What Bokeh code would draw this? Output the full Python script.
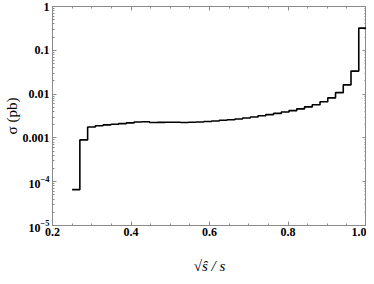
from bokeh.plotting import figure
from bokeh.models import (Range1d, FixedTicker, LogTicker, LogTickFormatter,
                          LinearAxis, LogAxis, CustomJSTickFormatter,
                          NumeralTickFormatter)
from bokeh.embed import file_html
from bokeh.resources import INLINE

# bin edges of the histogram (sqrt(s_hat/s))
edges = [0.25, 0.2697, 0.2895, 0.3092, 0.3289, 0.3487, 0.3684, 0.3882, 0.4079,
         0.4276, 0.4474, 0.4671, 0.4868, 0.5066, 0.5263, 0.5461, 0.5658, 0.5855,
         0.6053, 0.625, 0.6447, 0.6645, 0.6842, 0.7039, 0.7237, 0.7434, 0.7632,
         0.7829, 0.8026, 0.8224, 0.8421, 0.8618, 0.8816, 0.9013, 0.9211, 0.9408,
         0.9605, 0.9803, 1.0]
# cross section per bin (pb)
sigma = [6.6e-5, 9.0e-4, 1.77e-3, 1.9e-3, 1.98e-3, 2.05e-3, 2.12e-3, 2.2e-3,
         2.3e-3, 2.33e-3, 2.24e-3, 2.26e-3, 2.27e-3, 2.27e-3, 2.25e-3, 2.27e-3,
         2.3e-3, 2.36e-3, 2.43e-3, 2.52e-3, 2.6e-3, 2.7e-3, 2.85e-3, 3.0e-3,
         3.2e-3, 3.4e-3, 3.63e-3, 3.9e-3, 4.2e-3, 4.6e-3, 5.1e-3, 5.7e-3,
         6.7e-3, 8.2e-3, 1.08e-2, 1.62e-2, 3.35e-2, 0.32]

x_ticks = [0.2, 0.4, 0.6, 0.8, 1.0]
x_minor = [0.25, 0.3, 0.35, 0.45, 0.5, 0.55, 0.65, 0.7, 0.75, 0.85, 0.9, 0.95]
x_title = "\u221a\u015d / s"
y_title = "\u03c3 (pb)"

AX = "#8a8a8a"
FONT = "Liberation Serif"

p = figure(width=366, height=276, x_range=Range1d(0.2, 1.0),
           y_range=Range1d(1e-5, 1), y_axis_type="log",
           output_backend="svg", toolbar_location=None,
           min_border_left=46, min_border_right=0, min_border_top=6,
           min_border_bottom=50)
p.background_fill_color = "white"
p.border_fill_color = "white"
p.outline_line_color = AX
p.xgrid.visible = False
p.ygrid.visible = False

p.step(x=edges, y=sigma + [sigma[-1]], mode="after",
       line_color="black", line_width=1.6)


def style(ax, labels=True):
    ax.axis_line_color = AX
    ax.major_tick_line_color = AX
    ax.minor_tick_line_color = AX
    ax.major_tick_in = 4
    ax.major_tick_out = 0
    ax.minor_tick_in = 2
    ax.minor_tick_out = 0
    if labels:
        ax.major_label_text_font = FONT
        ax.major_label_text_font_style = "bold"
        ax.major_label_text_font_size = "12px"
        ax.major_label_text_color = "black"
    else:
        ax.formatter = CustomJSTickFormatter(code="return ''")
        ax.major_label_standoff = 0
        ax.major_label_text_font_size = "1px"


xt = FixedTicker(ticks=x_ticks, minor_ticks=x_minor)
xa = p.xaxis[0]
xa.ticker = xt
xa.formatter = NumeralTickFormatter(format="0.0")
style(xa)
xa.major_label_standoff = 2
xa.axis_label = x_title
xa.axis_label_text_font = FONT
xa.axis_label_text_font_style = "italic"
xa.axis_label_text_font_size = "15px"
xa.axis_label_text_color = "black"
xa.axis_label_standoff = 19

ya = p.yaxis[0]
ya.ticker = LogTicker(num_minor_ticks=10)
ya.formatter = LogTickFormatter(min_exponent=4)
style(ya)
ya.major_label_standoff = 3
ya.axis_label = y_title
ya.axis_label_text_font = FONT
ya.axis_label_text_font_style = "normal"
ya.axis_label_text_font_size = "15px"
ya.axis_label_text_color = "black"
ya.axis_label_standoff = 0

top = LinearAxis(ticker=FixedTicker(ticks=x_ticks, minor_ticks=x_minor))
style(top, labels=False)
p.add_layout(top, "above")
right = LogAxis(ticker=LogTicker(num_minor_ticks=10))
style(right, labels=False)
p.add_layout(right, "right")

open("out.html", "w").write(file_html(p, INLINE))
